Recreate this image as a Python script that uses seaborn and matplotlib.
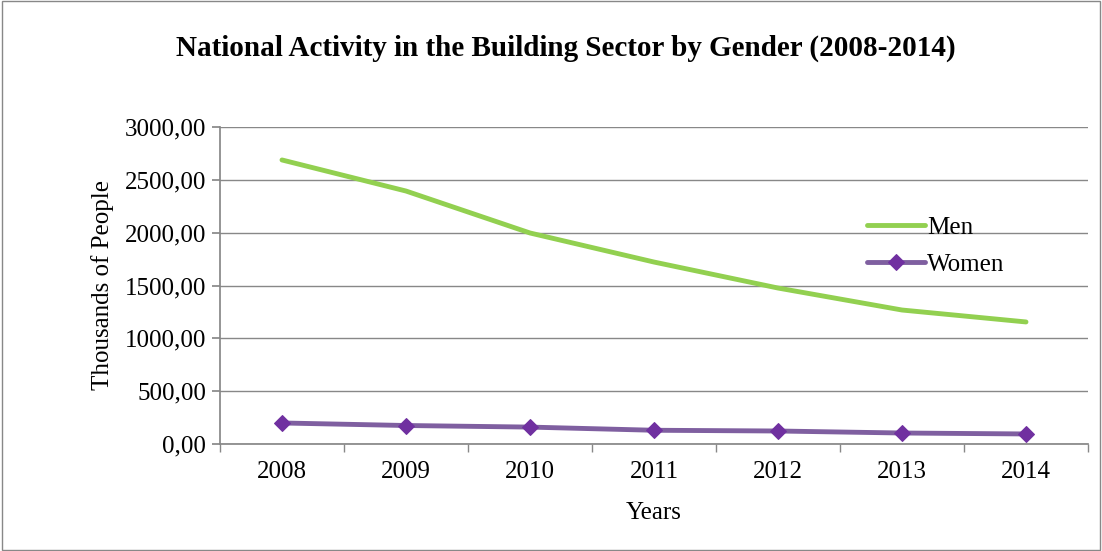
import matplotlib
matplotlib.use("Agg")
import matplotlib.pyplot as plt
import seaborn as sns
import pandas as pd
from matplotlib.patches import Rectangle

years = ["2008", "2009", "2010", "2011", "2012", "2013", "2014"]
men = [2688, 2394, 1997, 1722, 1476, 1268, 1155]
women = [199, 175, 160, 130, 123, 104, 95]
yticks = [0, 500, 1000, 1500, 2000, 2500, 3000]

sns.set_theme(style="white")
plt.rcParams['font.family'] = ['Liberation Serif', 'DejaVu Serif']
plt.rcParams['text.color'] = 'black'
plt.rcParams['xtick.color'] = 'black'
plt.rcParams['ytick.color'] = 'black'
plt.rcParams['axes.labelcolor'] = 'black'

df = pd.DataFrame({"year": years, "Men": men, "Women": women})
x = list(range(len(years)))

fig = plt.figure(figsize=(11.02, 5.51), dpi=100)
ax = fig.add_axes([220 / 1102, 1 - 444 / 551, 868 / 1102, 317 / 551])
fig.patches.append(Rectangle((0.002, 0.002), 0.996, 0.996, transform=fig.transFigure,
                             fill=False, edgecolor='#888888', linewidth=1))

sns.lineplot(x=x, y=df["Men"], ax=ax, color='#92d050', linewidth=3.5, label='Men')
sns.lineplot(x=x, y=df["Women"], ax=ax, color='#7f5fa0', linewidth=3.5, marker='D',
             markersize=8, markerfacecolor='#7030a0', markeredgecolor='#7030a0', label='Women')

ax.set_xlim(-0.5, 6.5)
ax.set_ylim(0, 3000)
ax.set_yticks(yticks)
ax.set_yticklabels([f"{v},00" for v in yticks], fontsize=18)
ax.set_xticks(x)
ax.set_xticklabels(years, fontsize=18)
ax.set_xticks([i - 0.5 for i in range(8)], minor=True)
ax.tick_params(axis='x', which='major', length=0, pad=12)
ax.tick_params(axis='x', which='minor', length=6, color='#888888', direction='out', bottom=True)
ax.tick_params(axis='y', length=6, color='#888888', direction='out', left=True, pad=4)
ax.yaxis.grid(True, color='#888888', linewidth=1)
for s in ['top', 'right']:
    ax.spines[s].set_visible(False)
for s in ['left', 'bottom']:
    ax.spines[s].set_color('#888888')

ax.set_xlabel('Years', fontsize=18, labelpad=14)
ax.set_ylabel('Thousands of People', fontsize=18, labelpad=8)
fig.text(0.513, 0.912, 'National Activity in the Building Sector by Gender (2008-2014)',
         ha='center', va='center', fontsize=21, fontweight='bold')

ax.legend(loc='upper left', bbox_to_anchor=(0.72, 0.79), frameon=False, fontsize=18,
          handlelength=2.3, handletextpad=0.1, labelspacing=0.6)

fig.savefig('out.png', dpi=100)
